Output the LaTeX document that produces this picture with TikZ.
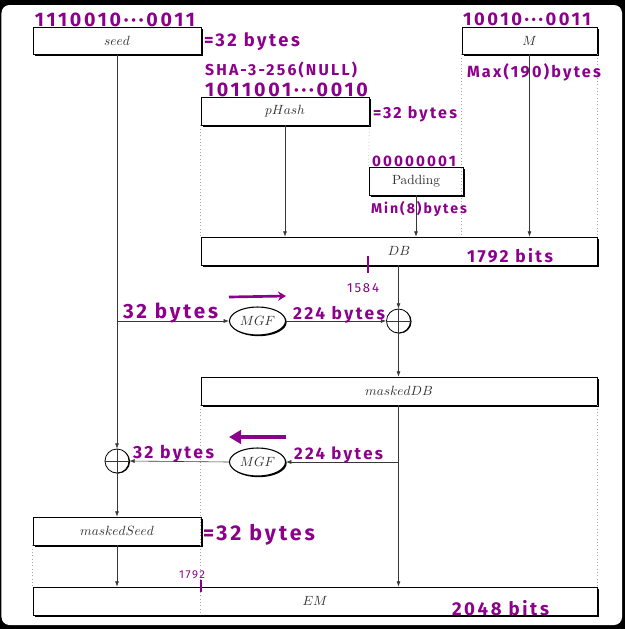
\documentclass[tikz,border=0pt]{standalone}
\usepackage{fontspec}
\usepackage{graphicx}
\usetikzlibrary{arrows.meta,shadows,shapes.geometric}
\newfontfamily\handfont{Fira Sans}[LetterSpace=14]
\definecolor{hand}{RGB}{140,0,140}
\definecolor{lbl}{RGB}{50,50,50}
\definecolor{wire}{RGB}{55,55,55}
\newdimen\px \px=0.75pt
\newcommand\hw[2]{\resizebox{#1\px}{!}{\handfont\bfseries #2}}
\newcommand\hwthin[2]{\resizebox{#1\px}{!}{\handfont #2}}
\tikzset{
  blk/.style={draw=black, fill=white, line width=0.6pt, inner sep=0pt, minimum height=20.5pt, text=lbl, font=\normalsize,
    drop shadow={shadow xshift=1.4pt, shadow yshift=-1.4pt, opacity=1, fill=black}},
  mgf/.style={ellipse, draw=black, fill=white, line width=0.8pt, inner sep=0pt, minimum width=42pt, minimum height=21pt, text=lbl,
    drop shadow={shadow xshift=0.9pt, shadow yshift=-0.9pt, opacity=1, fill=black}},
  xorn/.style={circle, draw=black, fill=white, line width=0.6pt, inner sep=0pt, minimum size=18pt,
    drop shadow={shadow xshift=0.8pt, shadow yshift=-0.4pt, opacity=1, fill=black}},
  arr/.style={draw=wire, line width=0.45pt, -{Latex[length=4pt,width=3pt]}},
  wireln/.style={draw=wire, line width=0.45pt},
  gridln/.style={draw=gray!70, line width=0.5pt, dotted},
  hwn/.style={inner sep=0pt, outer sep=0pt, text=hand, anchor=base west},
}
\begin{document}
\begin{tikzpicture}[x=0.75pt,y=-0.75pt]
\fill[black] (0,0) rectangle (625,629);
\fill[white, rounded corners=6pt] (1.5,5) rectangle (622,625);
\useasboundingbox (0,0) rectangle (625,629);

% boxes
\node[blk, minimum width=126pt, minimum height=20.25pt] (seed) at (117,41) {$seed$};
\node[blk, minimum width=101.25pt, minimum height=20.25pt] (M) at (529.5,40.5) {$M$};
\node[blk, minimum width=126pt, minimum height=21pt] (phash) at (285,111) {$pHash$};
\node[blk, minimum width=70.5pt, minimum height=21pt] (pad) at (416,181) {Padding};
\node[blk, minimum width=297pt, minimum height=21pt] (db) at (399,251) {$DB$};
\node[blk, minimum width=297pt, minimum height=21pt] (mdb) at (399,391) {$maskedDB$};
\node[blk, minimum width=126pt, minimum height=21pt] (ms) at (117,531) {$maskedSeed$};
\node[blk, minimum width=423pt, minimum height=21pt] (em) at (315,601) {$EM$};
\node[mgf] (mgf1) at (257.5,321) {$MGF$};
\node[mgf] (mgf2) at (257.5,462) {$MGF$};
\node[xorn] (x1) at (398.5,321) {};
\node[xorn] (x2) at (117,461) {};

% dotted grid lines
\draw[gridln] (phash.south west) -- (phash.south west |- db.north);
\draw[gridln] (phash.south east) -- (pad.north west);
\draw[gridln] (M.south west) -- (M.south west |- db.north);
\draw[gridln] (M.south east) -- (M.south east |- db.north);
\draw[gridln] (mdb.south west) -- (mdb.south west |- em.south);
\draw[gridln] (mdb.south east) -- (mdb.south east |- em.north);
\draw[gridln] (ms.south west) -- (ms.south west |- em.north);

% connectors
\draw[arr] (seed.south) -- (x2.north);
\draw[arr] (seed.south |- mgf1.west) -- (mgf1.west);
\draw[arr] (mgf1.east) -- (x1.west);
\draw[arr] (x1.north |- db.south) -- (x1.north);
\draw[arr] (x1.south) -- (x1.south |- mdb.north);
\draw[arr] (phash.south) -- (phash.south |- db.north);
\draw[arr] (pad.south) -- (pad.south |- db.north);
\draw[arr] (M.south) -- (M.south |- db.north);
\draw[arr] (x1.south |- mdb.south) -- (x1.south |- em.north);
\draw[arr] (x1.south |- mgf2.east) -- (mgf2.east);
\draw[arr] (mgf2.west) -- (x2.east);
\draw[arr] (x2.south) -- (x2.south |- ms.north);
\draw[arr] (ms.south) -- (ms.south |- em.north);
\draw[wireln] (x1.north) -- (x1.south) (x1.west) -- (x1.east);
\draw[wireln] (x2.north) -- (x2.south) (x2.west) -- (x2.east);

% handwritten annotations
\coordinate (ra1) at (229,297); \coordinate (ra2) at (286,296);
\coordinate (la1) at (286,437); \coordinate (la2) at (229,437);
\draw[hand, line width=2pt, -{Stealth[length=6pt,width=7pt]}] (ra1) -- (ra2);
\draw[hand, line width=3pt, -{Triangle[length=9pt,width=10pt]}] (la1) -- (la2);
\coordinate (t1a) at (368,256); \coordinate (t1b) at (368,273);
\coordinate (t2a) at (201,580); \coordinate (t2b) at (201,592);
\draw[hand, line width=2pt] (t1a) -- (t1b);
\draw[hand, line width=1.2pt] (t2a) -- (t2b);

\node[hwn] (h1) at (35,26) {\hw{160}{1110010···0011}};
\node[hwn] (h2) at (204,46) {\hw{96}{=32 bytes}};
\node[hwn] (h3) at (205,75) {\hw{152}{SHA-3-256(NULL)}};
\node[hwn] (h4) at (205,96) {\hw{163}{1011001···0010}};
\node[hwn] (h5) at (373,118) {\hw{84}{=32 bytes}};
\node[hwn] (h6) at (463,25) {\hw{128}{10010···0011}};
\node[hwn] (h7) at (467,77) {\hw{134}{Max(190)bytes}};
\node[hwn] (h8) at (372,166) {\hw{84}{00000001}};
\node[hwn] (h9) at (371,213) {\hw{96}{Min(8)bytes}};
\node[hwn] (h10) at (467,262) {\hw{86}{1792 bits}};
\node[hwn] (h11) at (347,292) {\hwthin{32}{1584}};
\node[hwn] (h12) at (123,318) {\hw{95}{32 bytes}};
\node[hwn] (h13) at (293,319) {\hw{92}{224 bytes}};
\node[hwn] (h14) at (133,458) {\hw{81}{32 bytes}};
\node[hwn] (h15) at (294,459) {\hw{89}{224 bytes}};
\node[hwn] (h16) at (203,540) {\hw{112}{=32 bytes}};
\node[hwn] (h17) at (179,578) {\hwthin{26}{1792}};
\node[hwn] (h18) at (452,615) {\hw{97}{2048 bits}};
\end{tikzpicture}
\end{document}
